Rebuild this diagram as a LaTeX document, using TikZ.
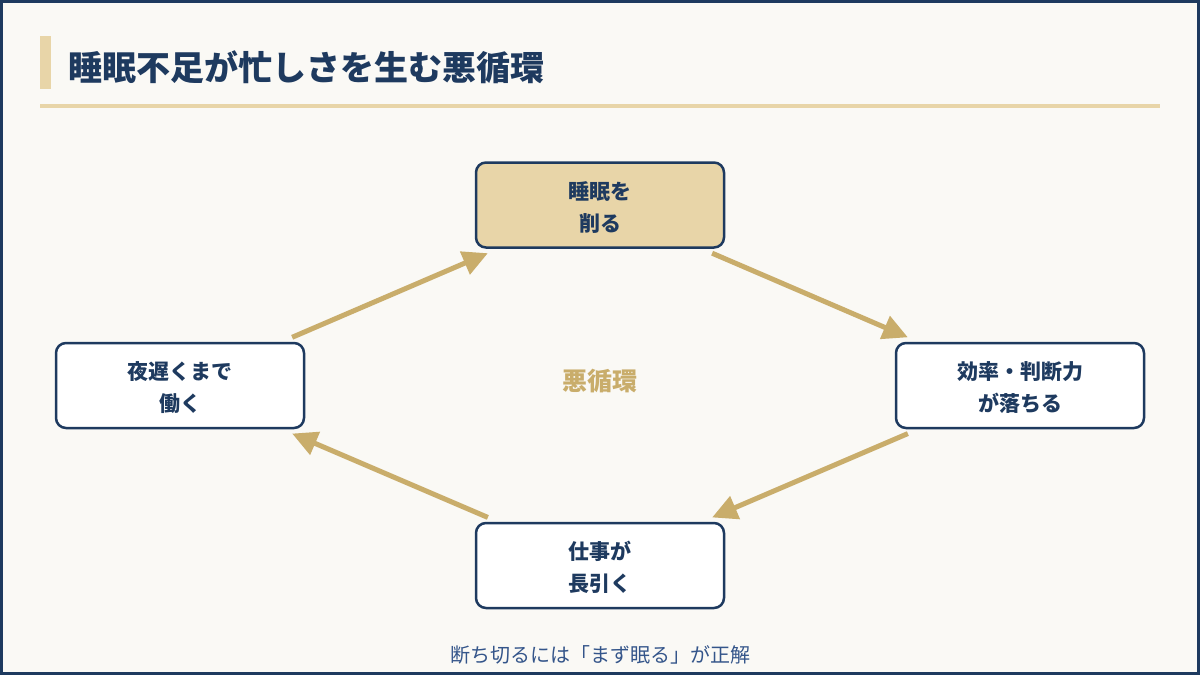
\documentclass[tikz,border=0pt]{standalone}
\usepackage{fontspec}
\setmainfont{Noto Sans CJK JP}
\usetikzlibrary{arrows.meta,calc}
\definecolor{navy}{HTML}{1E3A5F}
\definecolor{gold}{HTML}{E8D5A8}
\definecolor{arrowgold}{HTML}{C9AD6B}
\definecolor{bg}{HTML}{FAF9F5}
\definecolor{footblue}{HTML}{34558A}
\newcommand\twolines[2]{\raisebox{0pt}[\dimexpr\height+8pt\relax][\depth]{\begin{tabular}{@{}c@{}}#1\\#2\end{tabular}}}
\tikzset{
  stepbox/.style={draw=navy, line width=2.5pt, rounded corners=10pt, fill=white,
    minimum width=248pt, minimum height=85pt, align=center, text=navy,
    font=\fontsize{21}{32}\selectfont\bfseries, inner sep=0pt},
  flowarrow/.style={draw=arrowgold, line width=5pt,
    -{Triangle[length=25pt,width=24pt]}},
}
\begin{document}
\begin{tikzpicture}[x=1pt,y=-1pt]
\useasboundingbox (0,0) rectangle (1200,675);
\fill[bg] (0,0) rectangle (1200,675);
\draw[navy, line width=3pt] (1.5,1.5) rectangle (1198.5,673.5);
% title
\fill[gold] (40,36) rectangle (51,89);
\node[anchor=west, text=navy, font=\fontsize{34}{40}\selectfont\bfseries, inner sep=0pt] (title) at (68,67) {睡眠不足が忙しさを生む悪循環};
\fill[gold] (40,104) rectangle (1160,108);
% nodes
\node[stepbox, fill=gold] (top) at (600,205) {\twolines{睡眠を}{削る}};
\node[stepbox] (right) at (1020,385.5) {\twolines{効率・判断力}{が落ちる}};
\node[stepbox] (bottom) at (600,565.5) {\twolines{仕事が}{長引く}};
\node[stepbox] (left) at (180,385.5) {\twolines{夜遅くまで}{働く}};
\node[text=arrowgold, font=\fontsize{25}{30}\selectfont\bfseries] (center) at (600,381) {悪循環};
% arrows
\draw[flowarrow] ($(left)!0.267!(top)$) -- ($(left)!0.733!(top)$);
\draw[flowarrow] ($(top)!0.267!(right)$) -- ($(top)!0.733!(right)$);
\draw[flowarrow] ($(right)!0.267!(bottom)$) -- ($(right)!0.733!(bottom)$);
\draw[flowarrow] ($(bottom)!0.267!(left)$) -- ($(bottom)!0.733!(left)$);
% footer
\node[text=footblue, font=\fontsize{20}{24}\selectfont] (foot) at (600,655) {断ち切るには「まず眠る」が正解};
\end{tikzpicture}
\end{document}
